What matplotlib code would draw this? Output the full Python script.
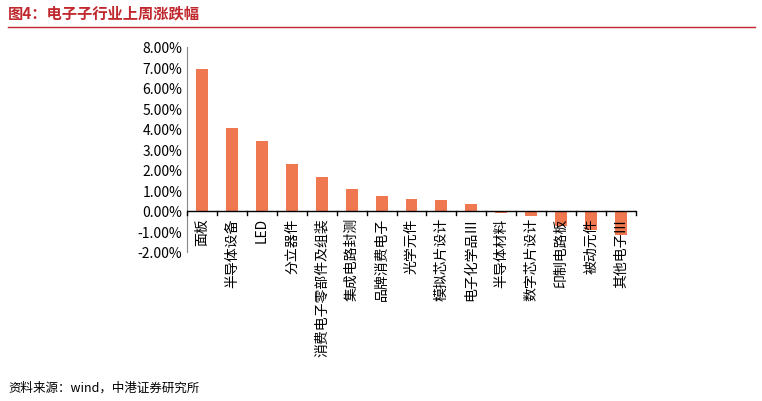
import matplotlib.pyplot as plt
from matplotlib.ticker import FuncFormatter

plt.rcParams['font.family'] = ['Noto Sans CJK SC', 'DejaVu Sans']

categories = ['面板', '半导体设备', 'LED', '分立器件', '消费电子零部件及组装', '集成电路封测',
              '品牌消费电子', '光学元件', '模拟芯片设计', '电子化学品Ⅲ', '半导体材料',
              '数字芯片设计', '印制电路板', '被动元件', '其他电子Ⅲ']
values = [6.93, 4.05, 3.41, 2.29, 1.68, 1.07, 0.73, 0.59, 0.54, 0.34, -0.12, -0.23, -0.75, -0.95, -1.15]
yticks = [-2, -1, 0, 1, 2, 3, 4, 5, 6, 7, 8]

fig = plt.figure(figsize=(7.62, 4.02), dpi=100)
ax = fig.add_axes([187/762, 1 - 253/402, (636 - 187)/762, (253 - 48)/402])
x = range(len(categories))
ax.bar(x, values, width=0.4, color='#F07850', zorder=2)
ax.set_ylim(-2, 8)
ax.set_xlim(-0.5, len(categories) - 0.5)
ax.set_yticks(yticks)
ax.yaxis.set_major_formatter(FuncFormatter(lambda v, p: f'{v:.2f}%'))
ax.tick_params(axis='y', labelsize=10, length=0)
for s in ['top', 'right', 'bottom']:
    ax.spines[s].set_visible(False)
ax.spines['left'].set_color('#888888')
ax.set_xticks([])
ax.axhline(0, color='black', lw=1, zorder=3)
for i in range(len(categories) + 1):
    ax.plot([i - 0.5, i - 0.5], [0, -0.18], color='black', lw=1, clip_on=False, zorder=3)
for i, c in enumerate(categories):
    ax.text(i, -0.3, c, rotation=90, ha='center', va='top', fontsize=10, zorder=4)

fig.text(8/762, 1 - 13/402, '图4：电子子行业上周涨跌幅', color='#C0282D', fontsize=11,
         fontweight='bold', va='center')
fig.add_artist(plt.Line2D([8/762, 755/762], [1 - 28/402] * 2, color='#C0282D', lw=1))
fig.text(8/762, 1 - 388/402, '资料来源：wind，中港证券研究所', fontsize=9, style='italic', va='center')
fig.savefig('out.png', dpi=100)
